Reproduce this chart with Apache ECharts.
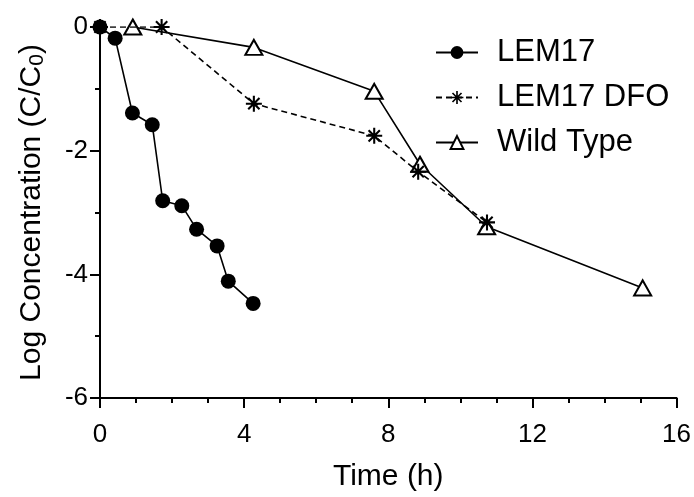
<!DOCTYPE html>
<html>
<head>
<meta charset="utf-8">
<script src="https://cdn.jsdelivr.net/npm/echarts@6/dist/echarts.min.js"></script>
<style>
  html, body { margin: 0; padding: 0; background: #fff; }
  #chart { width: 694px; height: 497px; }
</style>
</head>
<body>
<div id="chart"></div>
<script>
// Survival time course: log of relative concentration versus time
const lem17Time = [0, 0.42, 0.9, 1.45, 1.74, 2.27, 2.68, 3.25, 3.56, 4.25];
const lem17Log  = [0, -0.18, -1.39, -1.58, -2.81, -2.89, -3.27, -3.54, -4.11, -4.47];

const dfoTime = [0, 1.71, 4.27, 7.61, 8.83, 10.74];
const dfoLog  = [0, 0, -1.24, -1.76, -2.34, -3.16];

const wildTime = [0.91, 4.27, 7.61, 8.88, 10.73, 15.06];
const wildLog  = [0, -0.33, -1.04, -2.22, -3.23, -4.22];

const seriesNames = ['LEM17', 'LEM17 DFO', 'Wild Type'];
const xTicks = { min: 0, max: 16, step: 4 };
const yTicks = { min: -6, max: 0, step: 2 };

const FONT = '"Liberation Sans", Arial, Helvetica, sans-serif';

// eight-spoke asterisk marker
const asterisk = 'path://M8.7 0 H11.3 V20 H8.7 Z M0 8.7 H20 V11.3 H0 Z ' +
  'M3.87 2.03 L17.97 16.13 L16.13 17.97 L2.03 3.87 Z ' +
  'M16.13 2.03 L17.97 3.87 L3.87 17.97 L2.03 16.13 Z';

function pairs(xs, ys) { return xs.map((x, i) => [x, ys[i]]); }

const chart = echarts.init(document.getElementById('chart'), null, { renderer: 'canvas' });

chart.setOption({
  animation: false,
  backgroundColor: '#fff',
  textStyle: { fontFamily: FONT, color: '#000' },
  grid: { left: 100, right: 17, top: 27, bottom: 86, containLabel: false },
  legend: {
    orient: 'vertical',
    left: 430,
    top: 32,
    itemWidth: 42,
    itemHeight: 16,
    itemGap: 14,
    data: seriesNames,
    textStyle: { fontFamily: FONT, fontSize: 31, color: '#000', lineHeight: 31, padding: [0, 0, 0, 14] }
  },
  xAxis: {
    type: 'value',
    min: xTicks.min, max: xTicks.max, interval: xTicks.step,
    name: 'Time (h)',
    nameLocation: 'middle',
    nameGap: 64,
    nameTextStyle: { fontFamily: FONT, fontSize: 30, color: '#000' },
    axisLine: { show: true, onZero: false, lineStyle: { color: '#000', width: 2 } },
    axisTick: { show: true, inside: false, length: 10, lineStyle: { color: '#000', width: 2 } },
    minorTick: { show: true, splitNumber: 4, length: 5, lineStyle: { color: '#000', width: 2 } },
    axisLabel: { fontFamily: FONT, fontSize: 26, color: '#000', margin: 24 },
    splitLine: { show: false }
  },
  yAxis: {
    type: 'value',
    min: yTicks.min, max: yTicks.max, interval: yTicks.step,
    name: '{a|Log Concentration (C/C}{s|0}{a|)}',
    nameLocation: 'middle',
    nameGap: 52,
    nameRotate: 90,
    nameTextStyle: {
      rich: {
        a: { fontFamily: FONT, fontSize: 30, color: '#000' },
        s: { fontFamily: FONT, fontSize: 21, color: '#000', verticalAlign: 'bottom', padding: [12, 0, 0, 0] }
      }
    },
    axisLine: { show: true, onZero: false, lineStyle: { color: '#000', width: 2 } },
    axisTick: { show: true, inside: false, length: 10, lineStyle: { color: '#000', width: 2 } },
    minorTick: { show: true, splitNumber: 2, length: 5, lineStyle: { color: '#000', width: 2 } },
    axisLabel: { fontFamily: FONT, fontSize: 26, color: '#000', margin: 12 },
    splitLine: { show: false }
  },
  series: [
    {
      name: 'Wild Type',
      type: 'line',
      z: 2,
      data: pairs(wildTime, wildLog),
      symbol: 'triangle',
      symbolSize: [17, 15],
      showAllSymbol: true,
      lineStyle: { color: '#000', width: 1.6, type: 'solid' },
      itemStyle: { color: '#fff', borderColor: '#000', borderWidth: 2 }
    },
    {
      name: 'LEM17 DFO',
      type: 'line',
      z: 3,
      data: pairs(dfoTime, dfoLog),
      symbol: asterisk,
      symbolSize: 16,
      showAllSymbol: true,
      lineStyle: { color: '#000', width: 1.6, type: [6, 4] },
      itemStyle: { color: '#000', borderWidth: 0 }
    },
    {
      name: 'LEM17',
      type: 'line',
      z: 4,
      data: pairs(lem17Time, lem17Log),
      symbol: 'circle',
      symbolSize: 15,
      showAllSymbol: true,
      lineStyle: { color: '#000', width: 1.6, type: 'solid' },
      itemStyle: { color: '#000', borderWidth: 0 }
    }
  ]
});
</script>
</body>
</html>
